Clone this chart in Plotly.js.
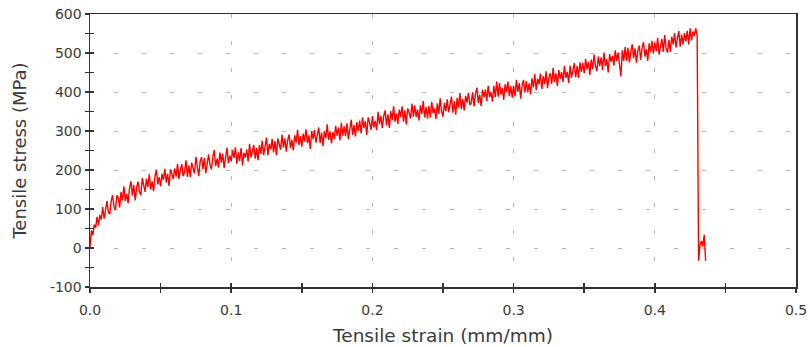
<!DOCTYPE html>
<html>
<head>
<meta charset="utf-8">
<script src="https://cdn.plot.ly/plotly-3.0.1.min.js"></script>
<style>html,body{margin:0;padding:0;background:#fff;}#chart{width:810px;height:347px;}</style>
</head>
<body>
<div id="chart"></div>
<script>
// Tensile test record: strain sampled every strainStep (mm/mm), stress in MPa
var strainStart = 0;
var strainStep = 0.001;
var stress = [
  2, 45, 33, 60, 52, 80, 58, 85, 73, 105,
  75, 99, 120, 92, 87, 120, 136, 106, 97, 135,
  130, 104, 144, 122, 158, 121, 139, 115, 154, 171,
  134, 162, 122, 155, 170, 144, 135, 179, 160, 144,
  178, 156, 189, 150, 171, 146, 184, 201, 163, 182,
  158, 190, 175, 203, 168, 190, 159, 202, 190, 177,
  204, 183, 216, 177, 200, 215, 184, 195, 225, 182,
  211, 182, 219, 208, 191, 234, 201, 184, 222, 233,
  202, 231, 192, 223, 240, 213, 202, 233, 251, 210,
  229, 206, 245, 219, 242, 205, 240, 257, 218, 237,
  222, 251, 231, 258, 216, 245, 223, 256, 212, 244,
  232, 253, 222, 267, 232, 247, 264, 229, 256, 225,
  264, 241, 275, 238, 259, 283, 238, 267, 253, 280,
  245, 274, 238, 281, 266, 252, 291, 258, 281, 247,
  276, 291, 256, 277, 250, 289, 270, 303, 264, 287,
  260, 293, 273, 304, 269, 289, 254, 300, 279, 303,
  270, 290, 309, 269, 296, 262, 300, 281, 317, 277,
  299, 268, 297, 280, 313, 288, 309, 276, 321, 288,
  312, 287, 320, 279, 308, 329, 290, 315, 286, 323,
  300, 327, 294, 335, 308, 325, 290, 335, 322, 303,
  338, 309, 326, 302, 349, 318, 339, 308, 338, 353,
  314, 343, 308, 351, 328, 363, 324, 345, 318, 355,
  336, 363, 324, 353, 317, 358, 347, 332, 370, 337,
  366, 336, 355, 327, 366, 344, 377, 335, 361, 332,
  364, 335, 375, 346, 358, 331, 371, 344, 384, 351,
  337, 372, 351, 381, 348, 369, 388, 347, 377, 342,
  385, 360, 397, 356, 382, 353, 390, 373, 398, 367,
  372, 399, 363, 396, 411, 372, 393, 364, 406, 387,
  406, 377, 416, 387, 400, 375, 416, 387, 427, 388,
  423, 393, 411, 380, 420, 400, 427, 389, 415, 386,
  416, 389, 431, 400, 423, 383, 416, 431, 399, 428,
  399, 422, 394, 435, 412, 446, 405, 434, 420, 447,
  408, 441, 420, 453, 410, 437, 448, 421, 462, 425,
  448, 415, 456, 434, 451, 426, 467, 436, 452, 423,
  468, 437, 455, 474, 438, 467, 436, 476, 451, 475,
  448, 485, 458, 477, 444, 483, 459, 496, 467, 454,
  491, 466, 489, 456, 501, 466, 485, 450, 497, 478,
  493, 468, 507, 480, 501, 466, 440, 507, 480, 515,
  480, 513, 476, 503, 522, 487, 512, 475, 506, 519,
  482, 513, 528, 491, 510, 480, 525, 502, 531, 498,
  527, 504, 539, 496, 521, 536, 503, 546, 513, 501,
  534, 503, 542, 522, 551, 514, 537, 556, 516, 547,
  522, 551, 530, 557, 522, 563, 532, 555, 544, 563,
  545, -33, 8, 18, 4, 34, -33
];
var xTickVals = [0, 0.1, 0.2, 0.3, 0.4, 0.5];
var xTickText = ["0.0", "0.1", "0.2", "0.3", "0.4", "0.5"];
var yTickVals = [-100, 0, 100, 200, 300, 400, 500, 600];
var yTickText = ["-100", "0", "100", "200", "300", "400", "500", "600"];
var xTitle = "Tensile strain (mm/mm)";
var yTitle = "Tensile stress (MPa)";

var axisColor = "#333333";
var textColor = "#3a3a3a";
var gridColor = "#b8b8a8";
var fontFam = "DejaVu Sans, Verdana, sans-serif";

var traces = [
  {
    type: "scatter", mode: "lines",
    x0: strainStart, dx: strainStep, y: stress,
    line: {color: "#ff0000", width: 1.4},
    hoverinfo: "skip", showlegend: false
  },
  {
    type: "scatter", mode: "none",
    x0: strainStart, dx: strainStep, y: stress,
    xaxis: "x2", yaxis: "y2",
    hoverinfo: "skip", showlegend: false
  }
];

var layout = {
  width: 810, height: 347,
  margin: {l: 90, r: 14, t: 14, b: 60},
  paper_bgcolor: "#ffffff", plot_bgcolor: "#ffffff",
  font: {family: fontFam, color: textColor, size: 14},
  showlegend: false,
  xaxis: {
    range: [0, 0.5], tickvals: xTickVals, ticktext: xTickText,
    ticks: "outside", ticklen: 4, tickwidth: 1.5, tickcolor: axisColor,
    ticklabelstandoff: 6,
    minor: {dtick: 0.05, ticks: "outside", ticklen: 4, tickwidth: 1.5, tickcolor: axisColor, showgrid: false},
    showline: true, linecolor: axisColor, linewidth: 1.5, mirror: true,
    showgrid: true, gridcolor: gridColor, gridwidth: 1, griddash: "4px,23px",
    zeroline: false,
    tickfont: {size: 14, family: fontFam, color: textColor},
    title: {text: xTitle, font: {size: 18.5, family: fontFam, color: textColor}, standoff: 12}
  },
  yaxis: {
    range: [-100, 600], tickvals: yTickVals, ticktext: yTickText,
    ticks: "outside", ticklen: 4, tickwidth: 1.5, tickcolor: axisColor,
    minor: {dtick: 50, ticks: "outside", ticklen: 4, tickwidth: 1.5, tickcolor: axisColor, showgrid: false},
    showline: true, linecolor: axisColor, linewidth: 1.5, mirror: true,
    showgrid: true, gridcolor: gridColor, gridwidth: 1, griddash: "0px,24px,4px,0px",
    zeroline: false,
    tickfont: {size: 14, family: fontFam, color: textColor},
    title: {text: yTitle, font: {size: 18, family: fontFam, color: textColor}, standoff: 18}
  },
  xaxis2: {
    overlaying: "x", anchor: "y2", side: "bottom",
    range: [0, 0.5], dtick: 0.05, tick0: 0,
    ticks: "inside", ticklen: 4, tickwidth: 1.5, tickcolor: axisColor,
    showticklabels: false, showline: false, showgrid: false, zeroline: false
  },
  yaxis2: {
    overlaying: "y", anchor: "x2", side: "left",
    range: [-100, 600], dtick: 50, tick0: 0,
    ticks: "inside", ticklen: 4, tickwidth: 1.5, tickcolor: axisColor,
    showticklabels: false, showline: false, showgrid: false, zeroline: false
  }
};

Plotly.newPlot("chart", traces, layout, {staticPlot: true, displayModeBar: false});
</script>
</body>
</html>
